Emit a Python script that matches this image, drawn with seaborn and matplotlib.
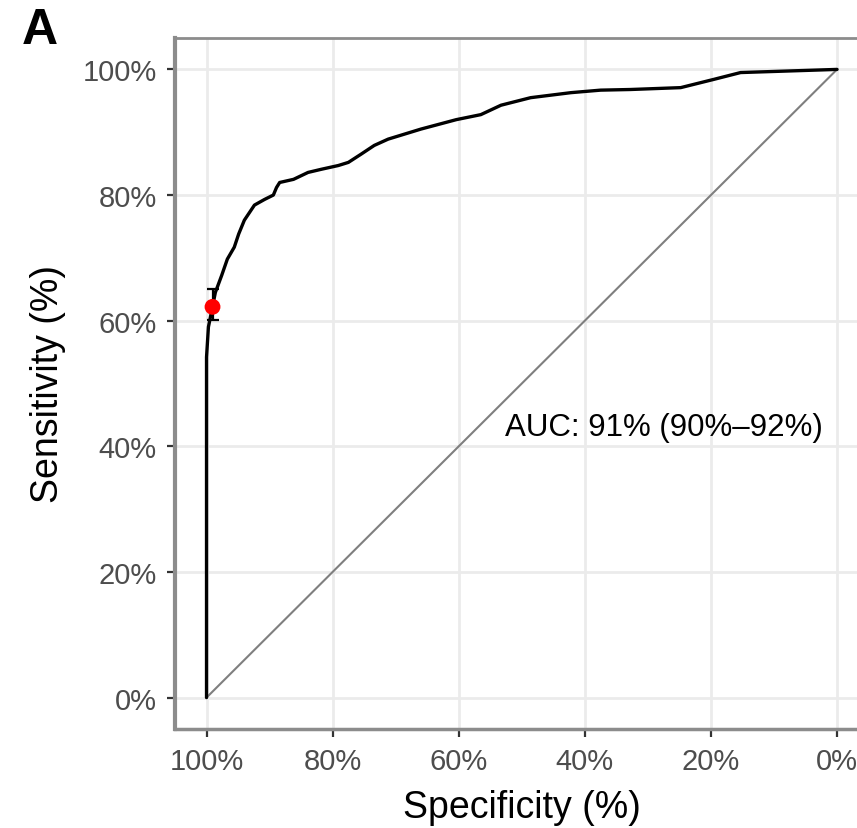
import matplotlib
matplotlib.use("Agg")
import matplotlib.pyplot as plt
import seaborn as sns
import pandas as pd
from matplotlib.ticker import FuncFormatter

# ROC curve coordinates (percent)
specificity = [100, 100, 99.7, 99.05, 98.6, 97.6, 96.7, 95.6, 94.9, 94.0, 92.4, 90.8,
               89.4, 88.9, 88.4, 86.2, 83.9, 81.8, 79.1, 77.5, 75.5, 73.4, 71.2, 66.0,
               60.4, 56.5, 53.3, 48.6, 42.2, 37.5, 32.8, 24.8, 19.6, 15.3, 0]
sensitivity = [0, 54.2, 59.0, 62.2, 64.5, 67.2, 69.8, 71.7, 73.8, 76.0, 78.4, 79.3,
               80.0, 81.2, 82.0, 82.5, 83.6, 84.1, 84.7, 85.2, 86.5, 87.9, 88.9, 90.5,
               92.0, 92.8, 94.3, 95.5, 96.3, 96.7, 96.8, 97.1, 98.4, 99.5, 100]

# Optimal threshold with its confidence interval
best_spec = 99.05
best_sens = 62.2
sens_ci = (60.1, 65.0)
spec_ci = (98.6, 99.5)

auc_label = "AUC: 91% (90%–92%)"
ticks = [0, 20, 40, 60, 80, 100]

roc = pd.DataFrame({"Specificity": specificity, "Sensitivity": sensitivity})
chance = pd.DataFrame({"Specificity": [100, 0], "Sensitivity": [0, 100]})
best = pd.DataFrame({"Specificity": [best_spec], "Sensitivity": [best_sens]})

sns.set_theme(style="white")
plt.rcParams["font.family"] = ["Liberation Sans", "DejaVu Sans"]

fig = plt.figure(figsize=(8.57, 8.29), dpi=100)
ax = fig.add_axes([175 / 857, 1 - 730 / 829, (868.6 - 175) / 857, (730 - 39) / 829])

grid_c = "#EBEBEB"
for t in ticks:
    ax.axvline(t, color=grid_c, lw=2.0, zorder=0)
    ax.axhline(t, color=grid_c, lw=2.0, zorder=0)

sns.lineplot(data=chance, x="Specificity", y="Sensitivity", sort=False, estimator=None,
             color="#7F7F7F", lw=1.5, ax=ax, zorder=2)
sns.lineplot(data=roc, x="Specificity", y="Sensitivity", sort=False, estimator=None,
             color="black", lw=2.4, ax=ax, zorder=3)

ax.errorbar([best_spec], [best_sens],
            yerr=[[best_sens - sens_ci[0]], [sens_ci[1] - best_sens]],
            xerr=[[best_spec - spec_ci[0]], [spec_ci[1] - best_spec]],
            fmt="none", ecolor="black", elinewidth=1.6, capsize=4, capthick=1.6, zorder=4)
sns.scatterplot(data=best, x="Specificity", y="Sensitivity", color="red", s=130,
                edgecolor="none", ax=ax, zorder=5)

ax.text(27.4, 43.1, auc_label, ha="center", va="center", fontsize=22.5, color="black")

ax.set_xlim(105, -5)
ax.set_ylim(-5, 105)
ax.set_xticks(ticks)
ax.set_yticks(ticks)
pct = FuncFormatter(lambda v, p: f"{int(v)}%")
ax.xaxis.set_major_formatter(pct)
ax.yaxis.set_major_formatter(pct)
ax.tick_params(axis="both", labelsize=21, colors="#333333", labelcolor="#4D4D4D",
               length=6, width=1.6, pad=7, left=True, bottom=True)

ax.set_xlabel("Specificity (%)", fontsize=27, color="black", labelpad=10)
ax.set_ylabel("Sensitivity (%)", fontsize=27, color="black", labelpad=12)

for side in ["left", "bottom", "top", "right"]:
    ax.spines[side].set_color("#8C8C8C")
ax.spines["left"].set_linewidth(3.0)
ax.spines["bottom"].set_linewidth(2.5)
ax.spines["top"].set_linewidth(2.0)
ax.spines["right"].set_linewidth(2.0)

fig.text(22 / 857, 1 - 31 / 829, "A", fontsize=36, fontweight="bold", color="black",
         va="center", ha="left")

fig.savefig("out.png", dpi=100)
